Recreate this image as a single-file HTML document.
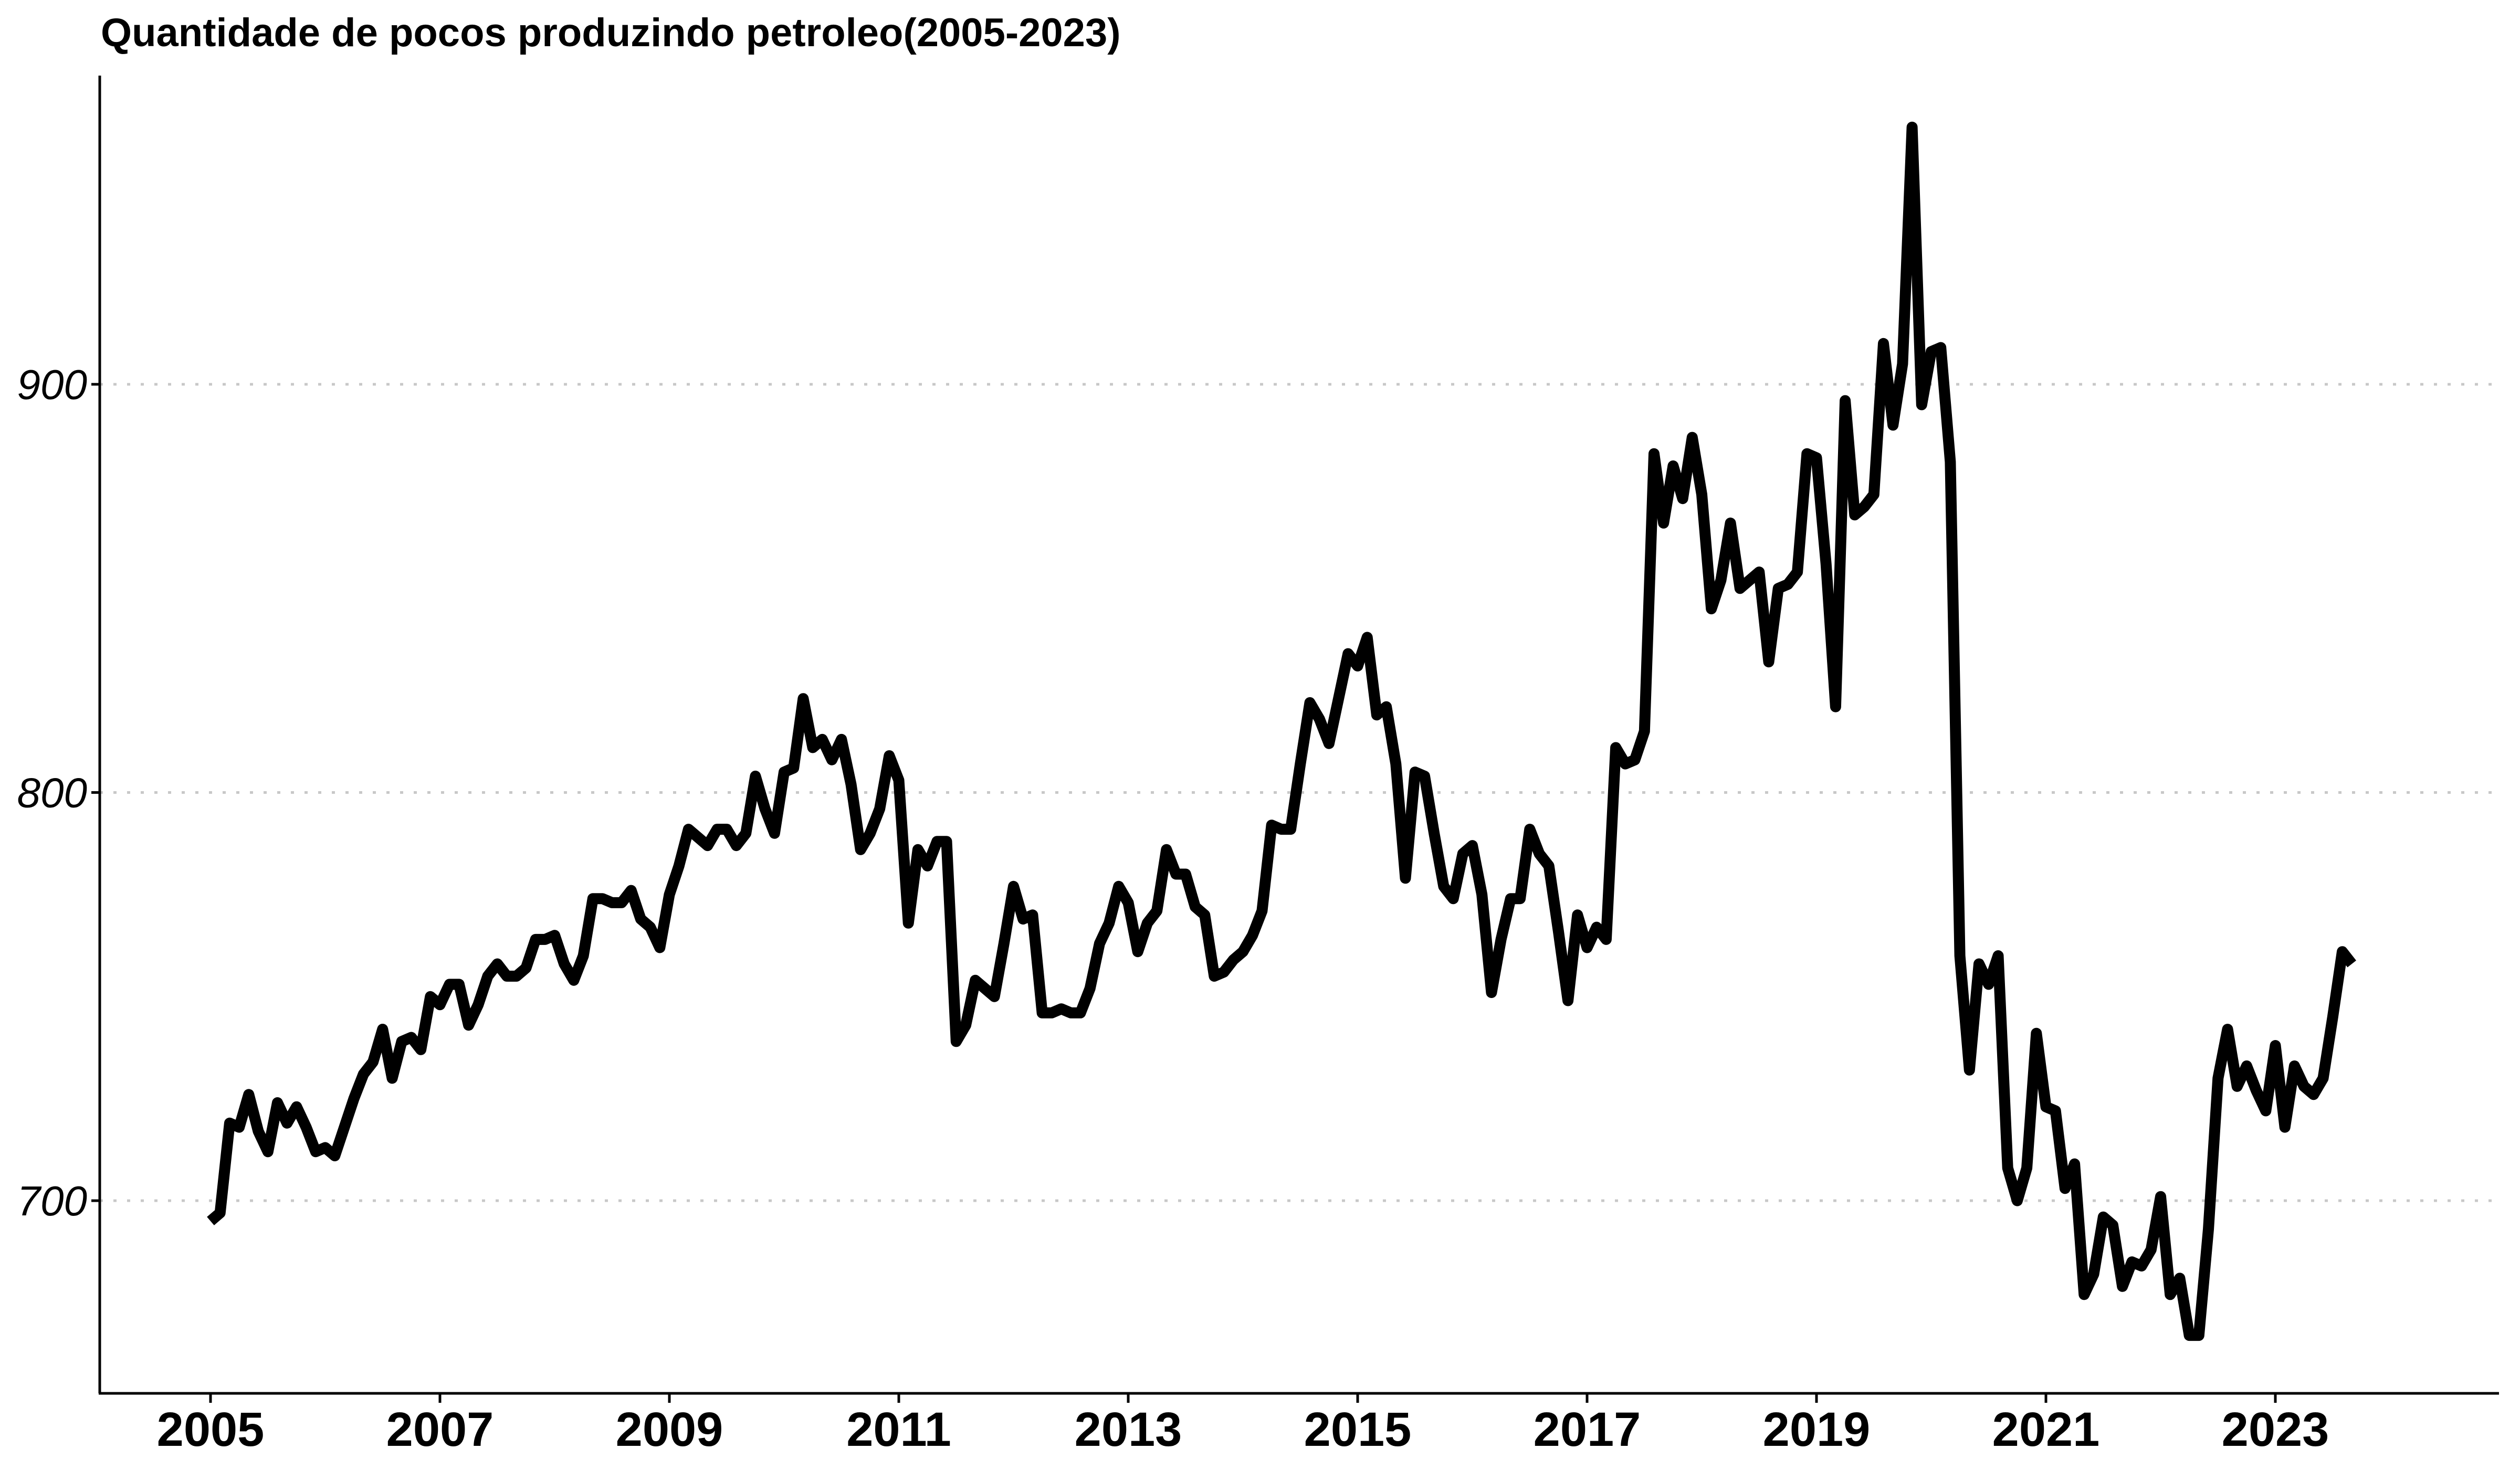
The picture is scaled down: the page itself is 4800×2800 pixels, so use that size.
<!DOCTYPE html>
<html><head><meta charset="utf-8"><style>
html,body{margin:0;padding:0;background:#fff;}
svg{display:block;font-family:"Liberation Sans",Arial,sans-serif;}
</style></head><body>
<svg id="chart" width="4800" height="2800" viewBox="0 0 4800 2800" xmlns="http://www.w3.org/2000/svg">
<text x="192" y="88" font-size="76" font-weight="bold">Quantidade de pocos produzindo petroleo(2005-2023)</text>
<g id="grid"></g>
<g id="axes"></g>
<g id="series"></g>
</svg>
<script>
const startYear = 2005;
const values = [
695,697,719,718,726,717,712,724,719,723,718,712,
713,711,718,725,731,734,742,730,739,740,737,750,
748,753,753,743,748,755,758,755,755,757,764,764,
765,758,754,760,774,774,773,773,776,769,767,762,
775,782,791,789,787,791,791,787,790,804,796,790,
805,806,823,811,813,808,813,802,786,790,796,809,
803,768,786,782,788,788,739,743,754,752,750,763,
777,769,770,746,746,747,746,746,752,763,768,777,
773,761,768,771,786,780,780,772,770,755,756,759,
761,765,771,792,791,791,807,822,818,812,823,834,
831,838,819,821,807,779,805,804,790,777,774,785,
787,775,751,764,774,774,791,785,782,766,749,770,
762,767,764,811,807,808,815,883,866,880,872,887,
873,845,852,866,850,852,854,832,850,851,854,883,
882,856,821,896,868,870,873,910,890,905,963,895,
908,909,881,760,732,758,753,760,708,700,708,741,
723,722,703,709,677,682,696,694,679,685,684,688,
701,677,681,667,667,693,730,742,728,733,727,722,
738,718,733,728,726,730,745,761,758
];
const yTicks = [700,800,900];
const xTicks = [2005,2007,2009,2011,2013,2015,2017,2019,2021,2023];

const NS = "http://www.w3.org/2000/svg";
const xs = t => 401 + (t - 2005) * 218.5;
const ys = v => 2287 - (v - 700) * 7.775;
const axL = 190, axB = 2654, axR = 4760, axT = 144;

function mk(tag, attrs, parent) {
  const el = document.createElementNS(NS, tag);
  for (const k in attrs) el.setAttribute(k, attrs[k]);
  parent.appendChild(el);
  return el;
}
const grid = document.getElementById('grid');
const axes = document.getElementById('axes');
const series = document.getElementById('series');

yTicks.forEach(v => {
  const g = mk('line', {x1: axL, x2: axR, y1: ys(v), y2: ys(v), stroke: '#c8c8c8', 'stroke-width': 5, 'stroke-dasharray': '6 20'}, grid);
  
  
  const t = mk('line', {x1: axL - 16, x2: axL, y1: ys(v), y2: ys(v), stroke: '#000', 'stroke-width': 5}, axes);
  
  
  const l = mk('text', {x: axL - 24, y: ys(v) + 28, 'text-anchor': 'end', 'font-size': 80, 'font-style': 'italic'}, axes);
  l.textContent = v;
  
  
});
xTicks.forEach(y => {
  const t = mk('line', {x1: xs(y), x2: xs(y), y1: axB, y2: axB + 18, stroke: '#000', 'stroke-width': 5}, axes);
  
  
  const l = mk('text', {x: xs(y), y: axB + 100, 'text-anchor': 'middle', 'font-size': 92, 'font-weight': 'bold'}, axes);
  l.textContent = y;
  
  
});
const ya = mk('line', {x1: axL, x2: axL, y1: axT, y2: axB, stroke: '#000', 'stroke-width': 5}, axes);


const xa = mk('line', {x1: axL - 2, x2: axR, y1: axB, y2: axB, stroke: '#000', 'stroke-width': 5}, axes);



const pts = values.map((v, i) => xs(startYear + i / 12).toFixed(1) + ',' + ys(v).toFixed(1)).join(' ');
const line = mk('polyline', {points: pts, fill: 'none', stroke: '#000', 'stroke-width': 21, 'stroke-linejoin': 'round'}, series);


</script>
</body></html>
